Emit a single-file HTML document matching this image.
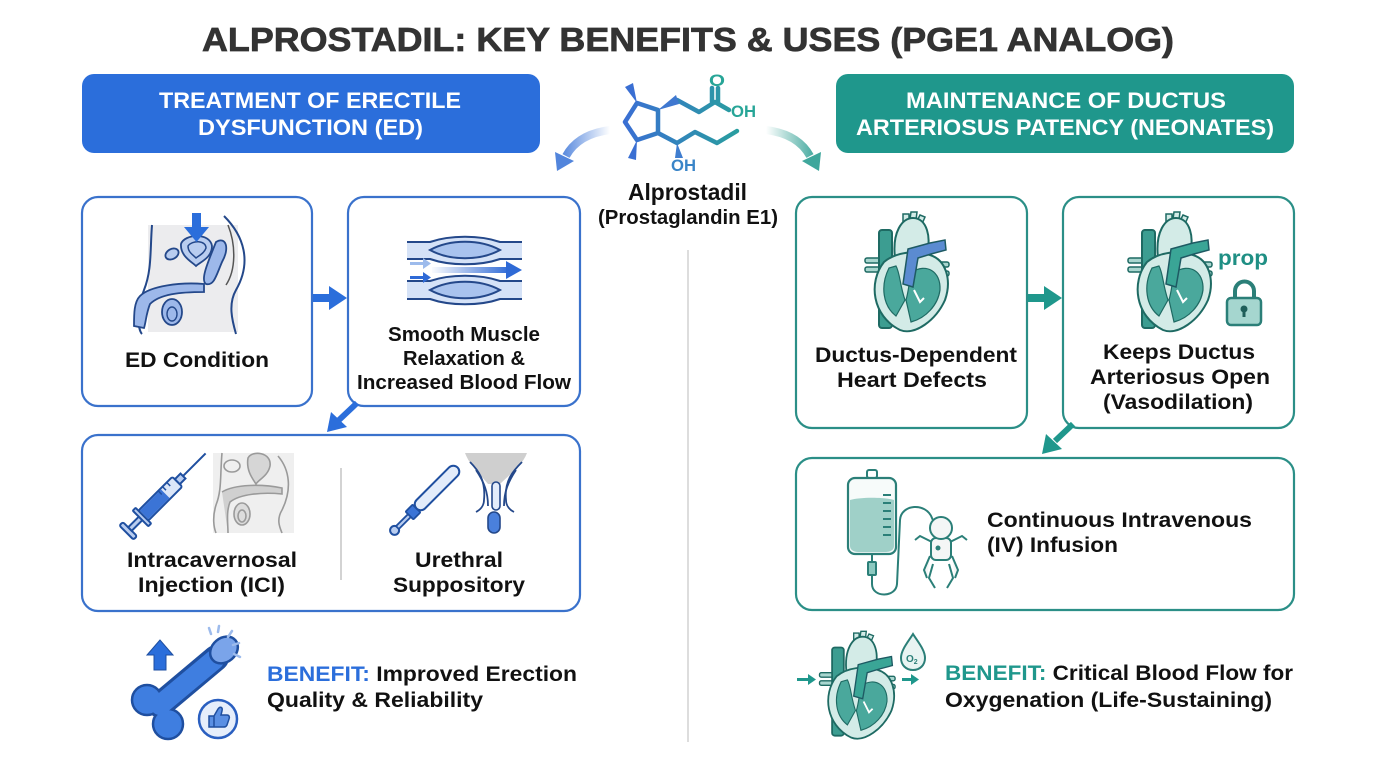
<!DOCTYPE html>
<html><head><meta charset="utf-8">
<style>
html,body{margin:0;padding:0;background:#fff;}
svg{display:block}
text{font-family:"Liberation Sans",sans-serif;font-weight:bold;}
</style></head><body>
<svg width="1376" height="768" viewBox="0 0 1376 768" xmlns="http://www.w3.org/2000/svg">
<defs>
 <linearGradient id="mol" gradientUnits="userSpaceOnUse" x1="625" y1="0" x2="755" y2="0">
  <stop offset="0" stop-color="#3a6fd3"/><stop offset="1" stop-color="#26a597"/>
 </linearGradient>
 <linearGradient id="fadeL" gradientUnits="userSpaceOnUse" x1="610" y1="0" x2="560" y2="0">
  <stop offset="0" stop-color="#3a74d8" stop-opacity="0"/><stop offset="1" stop-color="#3a74d8" stop-opacity="0.9"/>
 </linearGradient>
 <linearGradient id="fadeR" gradientUnits="userSpaceOnUse" x1="766" y1="0" x2="816" y2="0">
  <stop offset="0" stop-color="#2a9d91" stop-opacity="0"/><stop offset="1" stop-color="#2a9d91" stop-opacity="0.9"/>
 </linearGradient>
 <linearGradient id="flow" gradientUnits="userSpaceOnUse" x1="430" y1="0" x2="510" y2="0">
  <stop offset="0" stop-color="#2f6ad6" stop-opacity="0"/><stop offset="1" stop-color="#2f6ad6"/>
 </linearGradient>
 <g id="heart">
  <rect x="865" y="258" width="17" height="5" rx="2" fill="#a9d6cf" stroke="#1e6a63" stroke-width="1.5"/>
  <rect x="865" y="267" width="17" height="5" rx="2" fill="#a9d6cf" stroke="#1e6a63" stroke-width="1.5"/>
  <rect x="932" y="262" width="17" height="5" rx="2" fill="#a9d6cf" stroke="#1e6a63" stroke-width="1.5"/>
  <rect x="932" y="271" width="17" height="5" rx="2" fill="#a9d6cf" stroke="#1e6a63" stroke-width="1.5"/>
  <path d="M903,222 l0,-8 l6,0 l0,6 M910,219 l1,-7 l6,0 l-1,8 M917,221 l3,-6 l5,2 l-3,7" fill="#d3ebe7" stroke="#1e6a63" stroke-width="1.5"/>
  <path d="M895,258 C892,232 902,218 913,218 C927,218 932,238 926,255 Z" fill="#d3ebe7" stroke="#1e6a63" stroke-width="2"/>
  <rect x="879" y="230" width="13" height="98" rx="3" fill="#3c9d91" stroke="#1e6a63" stroke-width="2"/>
  <path d="M884,262 C868,282 872,316 900,330 C915,336 936,320 945,300 C952,280 946,260 930,255 C915,250 896,252 884,262 Z" fill="#d3ebe7" stroke="#1e6a63" stroke-width="2"/>
  <path d="M889,268 C880,286 883,306 896,316 L905,300 C900,286 900,273 896,266 Z" fill="#4aa89c" stroke="#1e6a63" stroke-width="1.2"/>
  <path d="M912,272 C926,263 941,271 940,290 C938,305 926,318 911,322 L906,300 C909,290 909,280 912,272 Z" fill="#4aa89c" stroke="#1e6a63" stroke-width="1.2"/>
  <path d="M903,284 L908,249 L930,243 L945,240 L946,250 L931,254 L918,258 L913,287 Z" fill="currentColor" stroke="#1e5a63" stroke-width="1.5"/>
  <path d="M914,290 l6,12 l4,-4" fill="none" stroke="#fff" stroke-width="2"/>
 </g>
</defs>
<rect width="1376" height="768" fill="#fff"/>

<!-- Title -->
<text x="202" y="51" font-size="33" fill="#333" stroke="#333" stroke-width="0.7" textLength="972" lengthAdjust="spacingAndGlyphs">ALPROSTADIL: KEY BENEFITS &amp; USES (PGE1 ANALOG)</text>

<!-- Headers -->
<rect x="82" y="74" width="458" height="79" rx="12" fill="#2b6edb"/>
<text x="159" y="108" font-size="22" fill="#fff" textLength="302" lengthAdjust="spacingAndGlyphs">TREATMENT OF ERECTILE</text>
<text x="198" y="135" font-size="22" fill="#fff" textLength="225" lengthAdjust="spacingAndGlyphs">DYSFUNCTION (ED)</text>
<rect x="836" y="74" width="458" height="79" rx="12" fill="#1f978c"/>
<text x="906" y="108" font-size="22" fill="#fff" textLength="320" lengthAdjust="spacingAndGlyphs">MAINTENANCE OF DUCTUS</text>
<text x="856" y="135" font-size="22" fill="#fff" textLength="418" lengthAdjust="spacingAndGlyphs">ARTERIOSUS PATENCY (NEONATES)</text>

<!-- Molecule -->
<g fill="none" stroke="url(#mol)" stroke-width="4.5" stroke-linejoin="round" stroke-linecap="round">
 <path d="M637,103 L658,110 L658,133 L637,140 L625,122 Z"/>
 <path d="M677,100 L699,112 L715,102 L729,110"/>
 <path d="M712,102 L712,88 M718,102 L718,88"/>
 <path d="M658,133 L677,143 L695,132 L717,143 L737,131"/>
</g>
<polygon points="637,103 625,87 633,83" fill="#3a6fd3"/>
<polygon points="637,140 628,158 636,160" fill="#3a6fd3"/>
<polygon points="658,110 676,95 679,104" fill="#3f78d0"/>
<polygon points="677,143 675,158 683,158" fill="#3f7dcf"/>
<text x="709" y="86" font-size="17" fill="#27a597" textLength="16" lengthAdjust="spacingAndGlyphs">O</text>
<text x="731" y="117" font-size="17" fill="#27a597" textLength="25" lengthAdjust="spacingAndGlyphs">OH</text>
<text x="671" y="171" font-size="17" fill="#3a85c8" textLength="25" lengthAdjust="spacingAndGlyphs">OH</text>
<text x="628" y="200" font-size="23" fill="#111" textLength="119" lengthAdjust="spacingAndGlyphs">Alprostadil</text>
<text x="598" y="224" font-size="20" fill="#111" textLength="180" lengthAdjust="spacingAndGlyphs">(Prostaglandin E1)</text>

<!-- curved arrows -->
<path d="M610,130 Q578,134 566,156" fill="none" stroke="url(#fadeL)" stroke-width="8"/>
<polygon points="557,171 555,152 574,161" fill="#3f78d8" opacity="0.9"/>
<path d="M766,130 Q798,134 810,156" fill="none" stroke="url(#fadeR)" stroke-width="8"/>
<polygon points="819,171 821,152 802,161" fill="#2a9d91" opacity="0.9"/>

<!-- center divider -->
<line x1="688" y1="250" x2="688" y2="742" stroke="#d2d2d2" stroke-width="1.5"/>

<!-- LEFT boxes -->
<rect x="82" y="197" width="230" height="209" rx="16" fill="#fff" stroke="#3a72cc" stroke-width="2.2"/>
<rect x="348" y="197" width="232" height="209" rx="16" fill="#fff" stroke="#3a72cc" stroke-width="2.2"/>
<rect x="82" y="435" width="498" height="176" rx="16" fill="#fff" stroke="#3a72cc" stroke-width="2.2"/>

<!-- ED icon -->
<rect x="148" y="225" width="90" height="107" fill="#ececee"/>
<g fill="none" stroke="#24488a" stroke-width="2">
 <path d="M152,225 C150,250 152,270 144,290 C136,310 138,330 142,334"/>
 <path d="M224,216 C244,236 252,262 236,290 C228,304 232,320 236,334"/>
 <path d="M228,225 C236,245 236,270 226,285" stroke="#555" stroke-width="1.5"/>
</g>
<ellipse cx="172" cy="254" rx="7" ry="5" fill="#b9cdf0" stroke="#24488a" stroke-width="1.8" transform="rotate(-30 172 254)"/>
<path d="M181,244 C184,234 210,232 212,246 C212,258 200,262 196,266 C192,262 180,256 181,244 Z" fill="#b9cdf0" stroke="#24488a" stroke-width="1.8"/>
<path d="M188,246 C192,240 206,240 206,248 C204,254 198,256 196,258 C192,254 188,252 188,246 Z" fill="none" stroke="#24488a" stroke-width="1.5"/>
<path d="M216,242 C226,236 230,248 222,262 C216,276 214,286 206,284 C200,280 208,262 216,242 Z" fill="#9db8ea" stroke="#24488a" stroke-width="1.8"/>
<path d="M140,296 C150,286 180,282 204,284 L204,292 C180,292 160,294 150,304 C146,314 146,322 144,328 L134,326 C134,314 134,302 140,296 Z" fill="#9db8ea" stroke="#24488a" stroke-width="1.8"/>
<ellipse cx="172" cy="312" rx="10" ry="13" fill="#9db8ea" stroke="#24488a" stroke-width="1.8"/>
<ellipse cx="172" cy="314" rx="5" ry="7" fill="none" stroke="#24488a" stroke-width="1.4"/>
<rect x="192" y="213" width="9" height="14" fill="#2b6edb"/>
<polygon points="184,227 209,227 196.5,242" fill="#2b6edb"/>

<!-- arrow left box1->box2 -->
<rect x="313" y="294" width="18" height="8" fill="#2b6edb"/>
<polygon points="329,286 347,298 329,310" fill="#2b6edb"/>

<!-- muscle icon -->
<g stroke="#24488a" stroke-width="2">
 <path d="M407,242 H430 C450,235 480,235 500,242 H522 V259 H500 C480,266 450,266 430,259 H407 Z" fill="#d5e2f7" stroke="none"/>
 <path d="M407,242 H430 C450,235 480,235 500,242 H522" fill="none"/>
 <path d="M407,259 H430 C450,266 480,266 500,259 H522" fill="none"/>
 <path d="M430,250 C450,239 480,239 500,250 C480,261 450,261 430,250 Z" fill="#a9c3ee"/>
 <path d="M407,281 H430 C450,274 480,274 500,281 H522 V299 H500 C480,306 450,306 430,299 H407 Z" fill="#d5e2f7" stroke="none"/>
 <path d="M407,281 H430 C450,274 480,274 500,281 H522" fill="none"/>
 <path d="M407,299 H430 C450,306 480,306 500,299 H522" fill="none"/>
 <path d="M430,290 C450,279 480,279 500,290 C480,301 450,301 430,290 Z" fill="#a9c3ee"/>
</g>
<rect x="432" y="267" width="76" height="6" fill="url(#flow)"/>
<polygon points="506,261 522,270 506,279" fill="#2f6ad6"/>
<rect x="410" y="262" width="14" height="3" fill="#9dbbec"/>
<polygon points="423,258 431,263.5 423,269" fill="#9dbbec"/>
<rect x="410" y="276" width="14" height="3" fill="#2f6ad6"/>
<polygon points="423,272 431,277.5 423,283" fill="#2f6ad6"/>

<text x="125" y="367" font-size="21" fill="#111" textLength="144" lengthAdjust="spacingAndGlyphs">ED Condition</text>
<text x="388" y="341" font-size="20" fill="#111" textLength="152" lengthAdjust="spacingAndGlyphs">Smooth Muscle</text>
<text x="403" y="365" font-size="20" fill="#111" textLength="122" lengthAdjust="spacingAndGlyphs">Relaxation &amp;</text>
<text x="357" y="389" font-size="20" fill="#111" textLength="214" lengthAdjust="spacingAndGlyphs">Increased Blood Flow</text>

<!-- diagonal arrow left -->
<line x1="357" y1="403" x2="339" y2="420" stroke="#2b6edb" stroke-width="6"/>
<polygon points="327,432 331,412 347,427" fill="#2b6edb"/>

<!-- box3 left icons -->
<g transform="translate(166,493) rotate(-45)">
 <rect x="-56" y="-10" width="5" height="20" rx="2" fill="#b9cdf0" stroke="#1f4fa0" stroke-width="2"/>
 <rect x="-51" y="-2.5" width="16" height="5" fill="#b9cdf0" stroke="#1f4fa0" stroke-width="2"/>
 <rect x="-36" y="-11" width="4" height="22" rx="1" fill="#b9cdf0" stroke="#1f4fa0" stroke-width="2"/>
 <rect x="-32" y="-7" width="48" height="14" rx="2" fill="#dbe6f8" stroke="#1f4fa0" stroke-width="2"/>
 <rect x="-31" y="-6" width="30" height="12" fill="#3b74d6"/>
 <path d="M2,-7 v5 M8,-7 v5 M-4,-7 v5" stroke="#1f4fa0" stroke-width="1.5"/>
 <rect x="16" y="-3.5" width="8" height="7" fill="#b9cdf0" stroke="#1f4fa0" stroke-width="2"/>
 <line x1="24" y1="0" x2="56" y2="0" stroke="#1f4fa0" stroke-width="2"/>
</g>
<rect x="213" y="453" width="81" height="80" fill="#efefef"/>
<g fill="none" stroke="#9a9a9a" stroke-width="1.6">
 <path d="M222,453 C220,475 222,490 216,505 C212,518 214,528 216,533"/>
 <ellipse cx="232" cy="466" rx="8" ry="6"/>
 <path d="M248,458 C252,450 272,452 270,466 C268,476 258,480 256,484 C252,478 246,470 248,458 Z" fill="#d6d6d6"/>
 <path d="M278,456 C290,470 292,490 282,510 C276,520 280,528 282,533"/>
 <path d="M222,492 C235,484 262,484 282,488 L282,494 C262,492 240,494 230,502 C226,512 228,524 228,533" fill="#d0d0d0"/>
 <ellipse cx="242" cy="514" rx="8" ry="11" fill="#dcdcdc"/>
 <ellipse cx="242" cy="516" rx="4" ry="6"/>
</g>
<line x1="341" y1="468" x2="341" y2="580" stroke="#c4c4c4" stroke-width="1.5"/>
<g transform="translate(425,500) rotate(-45)">
 <circle cx="-43" cy="0" r="4.5" fill="#b9cdf0" stroke="#1f4fa0" stroke-width="2"/>
 <rect x="-39" y="-2" width="18" height="4" fill="#b9cdf0" stroke="#1f4fa0" stroke-width="1.8"/>
 <rect x="-22" y="-5.5" width="10" height="11" rx="1" fill="#3b74d6" stroke="#1f4fa0" stroke-width="1.8"/>
 <rect x="-12" y="-6" width="58" height="12" rx="6" fill="#e3ecfa" stroke="#1f4fa0" stroke-width="2"/>
</g>
<path d="M465,453 L527,453 C522,466 510,474 500,484 L488,484 C480,474 470,466 465,453 Z" fill="#cfcfcf"/>
<g fill="none" stroke="#24488a" stroke-width="1.8">
 <path d="M470,462 C478,470 486,480 484,500 C484,506 480,510 476,512"/>
 <path d="M522,462 C514,470 504,480 506,500 C506,506 510,510 514,512"/>
 <path d="M476,470 C484,482 488,492 488,506"/>
 <path d="M516,470 C508,482 504,492 504,506"/>
</g>
<rect x="492" y="482" width="8" height="28" rx="4" fill="#e3ecfa" stroke="#24488a" stroke-width="1.6"/>
<rect x="488" y="512" width="12" height="21" rx="6" fill="#4a80dc" stroke="#24488a" stroke-width="1.6"/>

<text x="127" y="567" font-size="21" fill="#111" textLength="170" lengthAdjust="spacingAndGlyphs">Intracavernosal</text>
<text x="138" y="592" font-size="21" fill="#111" textLength="147" lengthAdjust="spacingAndGlyphs">Injection (ICI)</text>
<text x="415" y="567" font-size="21" fill="#111" textLength="88" lengthAdjust="spacingAndGlyphs">Urethral</text>
<text x="393" y="592" font-size="21" fill="#111" textLength="132" lengthAdjust="spacingAndGlyphs">Suppository</text>

<!-- left benefit icon -->
<polygon points="160,640 147,655 154,655 154,670 166,670 166,655 173,655" fill="#2b6edb" stroke="#1f4fa0" stroke-width="1"/>
<g stroke="#1f4fa0" stroke-width="2.5" fill="#3f7ee0">
 <line x1="160" y1="705" x2="216" y2="658" stroke="#1f4fa0" stroke-width="26" stroke-linecap="round"/>
 <circle cx="147" cy="700" r="15"/>
 <circle cx="168" cy="724" r="15"/>
 <line x1="160" y1="705" x2="214" y2="660" stroke="#3f7ee0" stroke-width="20" stroke-linecap="round"/>
 <ellipse cx="224" cy="650" rx="15" ry="12" transform="rotate(-40 224 650)" fill="#7aa4ea"/>
</g>
<circle cx="147" cy="700" r="12" fill="#3f7ee0"/>
<circle cx="168" cy="724" r="12" fill="#3f7ee0"/>
<g stroke="#9dbbec" stroke-width="2.5" stroke-linecap="round">
 <line x1="209" y1="628" x2="211" y2="634"/>
 <line x1="219" y1="626" x2="218" y2="632"/>
 <line x1="232" y1="631" x2="228" y2="637"/>
 <line x1="239" y1="643" x2="233" y2="645"/>
 <line x1="240" y1="657" x2="234" y2="654"/>
</g>
<circle cx="218" cy="719" r="19" fill="#e6eefb" stroke="#2a5fc0" stroke-width="2.5"/>
<path d="M209,716 h5 v11 h-5 z M214,716 l4,-7 c2,-3 5,-2 4,2 l-1,4 h6 c2,0 3,2 2,4 l-2,6 c-1,2 -2,2 -4,2 h-9 z" fill="#5a8fe3" stroke="#1f4fa0" stroke-width="1.5"/>

<text x="267" y="681" font-size="21" fill="#111" textLength="310" lengthAdjust="spacingAndGlyphs"><tspan fill="#2b6edb">BENEFIT:</tspan> Improved Erection</text>
<text x="267" y="707" font-size="21" fill="#111" textLength="216" lengthAdjust="spacingAndGlyphs">Quality &amp; Reliability</text>

<!-- RIGHT boxes -->
<rect x="796" y="197" width="231" height="231" rx="16" fill="#fff" stroke="#2b8f87" stroke-width="2.2"/>
<rect x="1063" y="197" width="231" height="231" rx="16" fill="#fff" stroke="#2b8f87" stroke-width="2.2"/>
<rect x="796" y="458" width="498" height="152" rx="16" fill="#fff" stroke="#2b8f87" stroke-width="2.2"/>

<use href="#heart" style="color:#5b8bd1"/>
<use href="#heart" transform="translate(263,0)" style="color:#3aa596"/>

<text x="1218" y="265" font-size="21" fill="#1f8f84" textLength="50" lengthAdjust="spacingAndGlyphs">prop</text>
<path d="M1235,299 V291 A9.5,9.5 0 0 1 1254,291 V299" fill="none" stroke="#2b7f78" stroke-width="4"/>
<rect x="1227" y="298" width="34" height="27" rx="4" fill="#a5d6cf" stroke="#2b7f78" stroke-width="2.5"/>
<circle cx="1244" cy="309" r="3.5" fill="#1f5f5a"/>
<rect x="1242.5" y="310" width="3" height="7" fill="#1f5f5a"/>

<!-- arrow right box1->box2 -->
<rect x="1028" y="294" width="18" height="8" fill="#1f978c"/>
<polygon points="1044,286 1062,298 1044,310" fill="#1f978c"/>

<text x="815" y="362" font-size="21" fill="#111" textLength="202" lengthAdjust="spacingAndGlyphs">Ductus-Dependent</text>
<text x="837" y="387" font-size="21" fill="#111" textLength="150" lengthAdjust="spacingAndGlyphs">Heart Defects</text>
<text x="1103" y="359" font-size="21" fill="#111" textLength="152" lengthAdjust="spacingAndGlyphs">Keeps Ductus</text>
<text x="1090" y="384" font-size="21" fill="#111" textLength="180" lengthAdjust="spacingAndGlyphs">Arteriosus Open</text>
<text x="1103" y="409" font-size="21" fill="#111" textLength="150" lengthAdjust="spacingAndGlyphs">(Vasodilation)</text>

<!-- diagonal arrow right -->
<line x1="1073" y1="424" x2="1055" y2="441" stroke="#1f978c" stroke-width="6"/>
<polygon points="1042,454 1046,434 1062,449" fill="#1f978c"/>

<!-- IV bag & baby -->
<rect x="867" y="470" width="10" height="8" rx="2" fill="none" stroke="#2b7f78" stroke-width="2"/>
<rect x="848" y="478" width="48" height="76" rx="7" fill="#f7fbfa" stroke="#2b7f78" stroke-width="2.2"/>
<path d="M850,500 C860,497 884,497 894,500 V546 C894,550 890,552 886,552 H858 C854,552 850,550 850,546 Z" fill="#9fd0c8"/>
<g stroke="#2b7f78" stroke-width="2">
 <line x1="883" y1="495" x2="891" y2="495"/><line x1="883" y1="503" x2="891" y2="503"/>
 <line x1="883" y1="511" x2="891" y2="511"/><line x1="883" y1="519" x2="891" y2="519"/>
 <line x1="883" y1="527" x2="891" y2="527"/><line x1="883" y1="535" x2="891" y2="535"/>
 <line x1="872" y1="554" x2="872" y2="562"/>
</g>
<rect x="868" y="562" width="8" height="13" rx="1" fill="#8cc9c0" stroke="#2b7f78" stroke-width="2"/>
<path d="M872,575 V584 C872,598 896,598 897,584 L900,520 C901,504 926,502 932,518 L938,532" fill="none" stroke="#2b7f78" stroke-width="2"/>
<g fill="#f4f6f6" stroke="#2b7f78" stroke-width="2">
 <path d="M930,556 l-6,14 l3,8 M952,556 l6,14 l-3,8"/>
 <path d="M932,542 l-12,-6 l-5,4 M950,542 l12,-6 l5,4" fill="none"/>
 <rect x="931" y="538" width="20" height="22" rx="5"/>
 <circle cx="941" cy="528" r="11"/>
 <path d="M933,564 l-4,14 l6,10 M949,564 l4,14 l-6,10" fill="none"/>
</g>
<circle cx="938" cy="548" r="2.5" fill="#2b7f78"/>

<text x="987" y="527" font-size="21" fill="#111" textLength="265" lengthAdjust="spacingAndGlyphs">Continuous Intravenous</text>
<text x="987" y="552" font-size="21" fill="#111" textLength="131" lengthAdjust="spacingAndGlyphs">(IV) Infusion</text>

<!-- right benefit heart -->
<use href="#heart" transform="translate(806,625) scale(0.9) translate(-850,-205)" style="color:#3aa596"/>
<g fill="#1f978c">
 <rect x="797" y="678" width="12" height="3"/>
 <polygon points="808,674 816,679.5 808,685"/>
 <rect x="902" y="678" width="10" height="3"/>
 <polygon points="911,674 919,679.5 911,685"/>
</g>
<path d="M913,634 C918,642 925,650 925,658 C925,665 920,670 913,670 C906,670 901,665 901,658 C901,650 908,642 913,634 Z" fill="#e8f4f2" stroke="#2b7f78" stroke-width="2"/>
<text x="906" y="662" font-size="10" fill="#2b7f78" font-weight="normal">O<tspan font-size="7" dy="2">2</tspan></text>

<text x="945" y="680" font-size="21" fill="#111" textLength="348" lengthAdjust="spacingAndGlyphs"><tspan fill="#1f978c">BENEFIT:</tspan> Critical Blood Flow for</text>
<text x="945" y="707" font-size="21" fill="#111" textLength="327" lengthAdjust="spacingAndGlyphs">Oxygenation (Life-Sustaining)</text>
</svg>
</body></html>
